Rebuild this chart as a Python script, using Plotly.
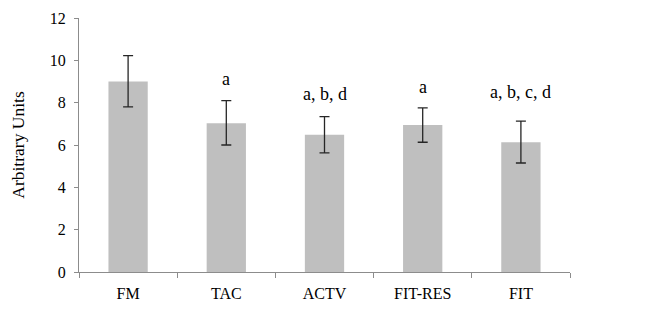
import plotly.graph_objects as go

categories = ["FM", "TAC", "ACTV", "FIT-RES", "FIT"]
means = [9.0, 7.03, 6.48, 6.94, 6.13]
err_plus = [1.22, 1.07, 0.86, 0.81, 1.0]
err_minus = [1.2, 1.03, 0.85, 0.81, 0.98]
sig_labels = ["", "a", "a, b, d", "a", "a, b, c, d"]
sig_y = [None, 9.1, 8.4, 8.73, 8.5]

fig = go.Figure()
fig.add_trace(go.Bar(
    x=categories, y=means, width=0.4,
    marker=dict(color="#BFBFBF", line=dict(width=0)),
    error_y=dict(type="data", array=err_plus, arrayminus=err_minus,
                 color="#262626", thickness=1.3, width=5),
    showlegend=False,
))

for c, lab, yy in zip(categories, sig_labels, sig_y):
    if lab:
        fig.add_annotation(x=c, y=yy, text=lab, showarrow=False,
                           font=dict(family="Liberation Serif", size=18, color="black"))

fig.update_layout(
    width=667, height=313,
    margin=dict(l=71, r=105, t=10, b=49),
    paper_bgcolor="white", plot_bgcolor="white",
    font=dict(family="Liberation Serif", size=16, color="black"),
    bargap=0.6,
)
fig.update_xaxes(showline=True, linecolor="#8C8C8C", linewidth=1, automargin=False,
                 ticks="outside", tickson="boundaries", ticklen=5, tickcolor="#8C8C8C",
                 showgrid=False, tickfont=dict(size=16), ticklabelstandoff=7)
fig.update_yaxes(range=[0, 12], dtick=2, showline=True, linecolor="#8C8C8C", linewidth=1,
                 automargin=False,
                 ticks="outside", ticklen=4, tickcolor="#8C8C8C", showgrid=False, zeroline=False,
                 title=dict(text="Arbitrary Units", font=dict(size=17.5), standoff=22),
                 tickfont=dict(size=16), ticklabelstandoff=5, ticklabeloverflow="allow")

fig.write_html("out.html")
